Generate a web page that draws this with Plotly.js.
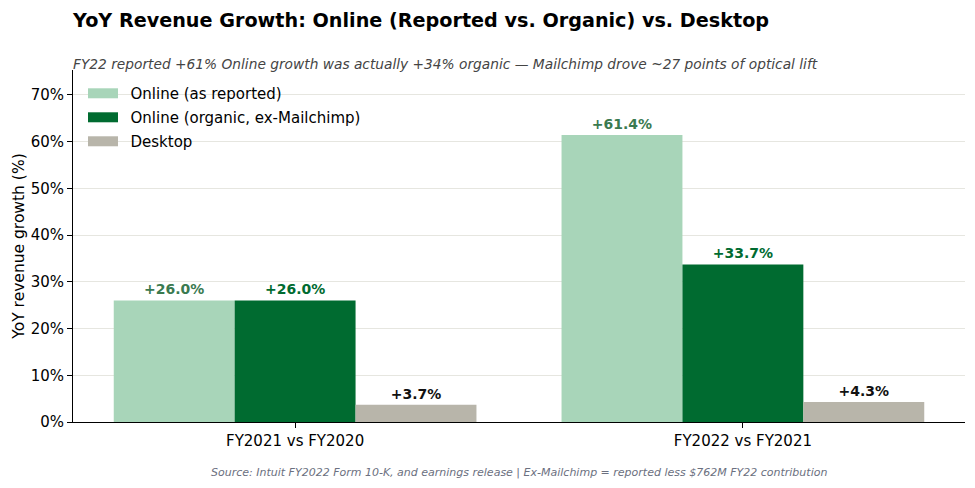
<!DOCTYPE html>
<html><head><meta charset="utf-8">
<script src="https://cdn.plot.ly/plotly-3.0.1.min.js"></script>
<style>body{margin:0;padding:0;background:#fff}#chart{width:975px;height:488px}</style>
</head><body><div id="chart"></div>
<script>
const categories = ["FY2021 vs FY2020", "FY2022 vs FY2021"];
const seriesNames = ["Online (as reported)", "Online (organic, ex-Mailchimp)", "Desktop"];
const onlineReported = [26.0, 61.4];
const onlineOrganic = [26.0, 33.7];
const desktop = [3.7, 4.3];
const yTickVals = [0, 10, 20, 30, 40, 50, 60, 70];
const yTickText = ["0%", "10%", "20%", "30%", "40%", "50%", "60%", "70%"];

const F = "DejaVu Sans, sans-serif";
const colors = ["#a8d5b9", "#006b30", "#b8b5aa"];
const labelColors = ["#3a7a50", "#006b30", "#111111"];
const values = [onlineReported, onlineOrganic, desktop];

const data = values.map((y, i) => ({
  type: "bar", name: seriesNames[i], x: categories, y: y, showlegend: false,
  marker: {color: colors[i], line: {width: 0}},
  texttemplate: "+%{y:.1f}%", textposition: "outside",
  outsidetextfont: {family: F, size: 14, color: labelColors[i], weight: "bold"},
  cliponaxis: false, hoverinfo: "skip"
}));
// legend entries drawn as wide swatches
seriesNames.forEach((n, i) => data.push({
  type: "scatter", mode: "lines", name: "\u2002" + n, x: [null], y: [null],
  legendgroup: "g" + i,
  line: {color: colors[i], width: 11}, showlegend: true, hoverinfo: "skip"
}));

const layout = {
  width: 975, height: 488,
  margin: {l: 73, r: 10, t: 70, b: 66},
  paper_bgcolor: "#fff", plot_bgcolor: "#fff",
  font: {family: F, size: 15, color: "#000"},
  barmode: "group", bargap: 0.19, bargroupgap: 0,
  showlegend: true,
  legend: {x: (83 - 73) / 892, y: 0.98, xanchor: "left", yanchor: "top", bgcolor: "rgba(255,255,255,0)",
           font: {family: F, size: 15}, tracegroupgap: 1.5, itemwidth: 30},
  xaxis: {type: "category", range: [-0.496, 1.496], showline: true, linecolor: "#000", linewidth: 1,
          ticks: "outside", ticklen: 5, tickcolor: "#000", tickfont: {family: F, size: 15}, showgrid: false, zeroline: false},
  yaxis: {range: [0, 75.3], tickvals: yTickVals, ticktext: yTickText, showline: true, linecolor: "#000", linewidth: 1,
          ticks: "outside", ticklen: 5, tickcolor: "#000", tickfont: {family: F, size: 15},
          showgrid: true, gridcolor: "#e6e6e0", gridwidth: 1, zeroline: false, automargin: false,
          title: {text: "YoY revenue growth (%)", font: {family: F, size: 15.5}, standoff: 2}},
  annotations: [
    {text: "<b>YoY Revenue Growth: Online (Reported vs. Organic) vs. Desktop</b>", xref: "paper", yref: "paper",
     x: 0, y: 1, xanchor: "left", yanchor: "bottom", yshift: 36, xshift: -3, showarrow: false,
     font: {family: F, size: 19.2, color: "#000"}},
    {text: "<i>FY22 reported +61% Online growth was actually +34% organic — Mailchimp drove ~27 points of optical lift</i>",
     xref: "paper", yref: "paper", x: 0, y: 1, xanchor: "left", yanchor: "bottom", yshift: -4, xshift: -2, showarrow: false,
     font: {family: F, size: 13.75, color: "#444"}},
    {text: "<i>Source: Intuit FY2022 Form 10-K, and earnings release | Ex-Mailchimp = reported less $762M FY22 contribution</i>",
     xref: "paper", yref: "paper", x: 0.5, y: 0, xanchor: "center", yanchor: "top", yshift: -42, showarrow: false,
     font: {family: F, size: 11, color: "#6b7080"}}
  ]
};
Plotly.newPlot("chart", data, layout, {displayModeBar: false, staticPlot: true});
</script></body></html>
